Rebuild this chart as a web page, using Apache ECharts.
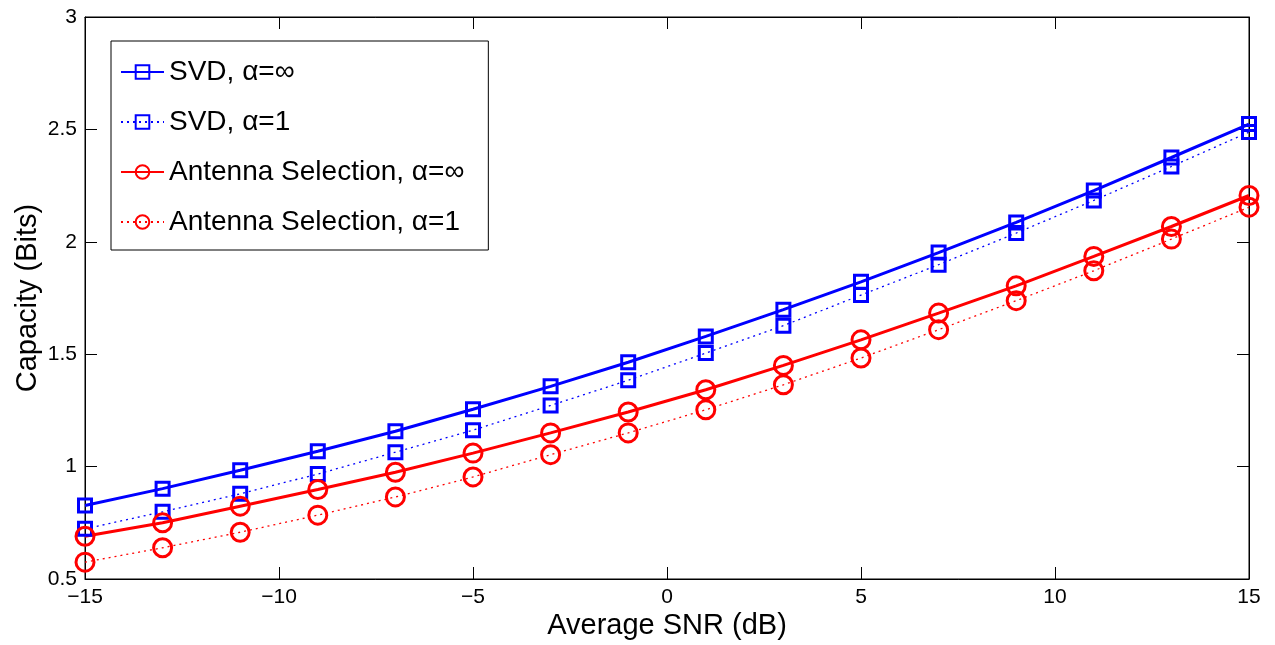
<!DOCTYPE html>
<html>
<head>
<meta charset="utf-8">
<script src="https://cdn.jsdelivr.net/npm/echarts@6/dist/echarts.min.js"></script>
<style>
  html, body { margin: 0; padding: 0; background: #fff; }
  #chart { width: 1275px; height: 645px; }
</style>
</head>
<body>
<div id="chart"></div>
<script>
var snr = [-15, -13, -11, -9, -7, -5, -3, -1, 1, 3, 5, 7, 9, 11, 13, 15];
var svdInf = [0.827, 0.902, 0.984, 1.068, 1.157, 1.255, 1.357, 1.464, 1.579, 1.698, 1.822, 1.952, 2.086, 2.228, 2.375, 2.524];
var svdOne = [0.723, 0.799, 0.879, 0.967, 1.064, 1.162, 1.272, 1.384, 1.505, 1.627, 1.763, 1.898, 2.039, 2.184, 2.335, 2.488];
var asInf = [0.690, 0.750, 0.824, 0.898, 0.975, 1.060, 1.150, 1.243, 1.342, 1.450, 1.564, 1.683, 1.804, 1.935, 2.068, 2.206];
var asOne = [0.575, 0.639, 0.708, 0.784, 0.865, 0.954, 1.053, 1.150, 1.253, 1.364, 1.483, 1.609, 1.738, 1.871, 2.012, 2.154];
var names = ['SVD, \u03b1=\u221e', 'SVD, \u03b1=1', 'Antenna Selection, \u03b1=\u221e', 'Antenna Selection, \u03b1=1'];

var font = 'Liberation Sans, Arial, sans-serif';

function pairs(ys) {
    return snr.map(function (x, i) { return [x, ys[i]]; });
}

function mkSeries(name, ys, color, dotted, symbol, size) {
    return {
        name: name,
        type: 'line',
        data: pairs(ys),
        symbol: symbol,
        symbolSize: size,
        showAllSymbol: true,
        animation: false,
        lineStyle: dotted ? { color: color, width: 1.3, type: [2, 4] } : { color: color, width: 3 },
        itemStyle: { color: 'rgba(0,0,0,0)', borderColor: color, borderWidth: 3 },
        emphasis: { disabled: true }
    };
}

// box axes (top / right) only carry ticks
function boxAxis(pos, min, max, step) {
    return {
        type: 'value', position: pos,
        min: min, max: max, interval: step,
        axisLine: { show: true, onZero: false, lineStyle: { color: '#000' } },
        axisTick: { show: true, inside: true, length: 12, lineStyle: { color: '#000' } },
        axisLabel: { show: false },
        splitLine: { show: false }
    };
}

var myChart = echarts.init(document.getElementById('chart'));
var option = {
    backgroundColor: '#fff',
    animation: false,
    grid: {
        left: 85, right: 26, top: 17, bottom: 65,
        show: true, borderColor: '#000', borderWidth: 1
    },
    legend: {
        orient: 'vertical',
        left: 111,
        top: 41,
        data: names,
        itemWidth: 43,
        itemHeight: 17,
        itemGap: 20,
        padding: [16, 24, 13, 9],
        backgroundColor: '#fff',
        borderColor: '#000',
        borderWidth: 1,
        textStyle: { fontFamily: font, fontSize: 28, color: '#000', lineHeight: 30 }
    },
    xAxis: [{
        type: 'value',
        min: -15, max: 15, interval: 5,
        name: 'Average SNR (dB)',
        nameLocation: 'middle',
        nameGap: 32,
        nameMoveOverlap: false,
        nameTextStyle: { fontFamily: font, fontSize: 29, color: '#000' },
        axisLine: { onZero: false, lineStyle: { color: '#000', width: 1 } },
        axisTick: { inside: true, length: 12, lineStyle: { color: '#000' } },
        axisLabel: {
            fontFamily: font, fontSize: 21, color: '#000', margin: 8,
            formatter: function (v) { return String(v).replace('-', '\u2212'); }
        },
        splitLine: { show: false }
    }, boxAxis('top', -15, 15, 5)],
    yAxis: [{
        type: 'value',
        min: 0.5, max: 3, interval: 0.5,
        name: 'Capacity (Bits)',
        nameLocation: 'middle',
        nameGap: 43,
        nameMoveOverlap: false,
        nameTextStyle: { fontFamily: font, fontSize: 29, color: '#000' },
        axisLine: { show: true, onZero: false, lineStyle: { color: '#000', width: 1 } },
        axisTick: { show: true, inside: true, length: 12, lineStyle: { color: '#000' } },
        axisLabel: { fontFamily: font, fontSize: 21, color: '#000', margin: 8 },
        splitLine: { show: false }
    }, boxAxis('right', 0.5, 3, 0.5)],
    series: [
        mkSeries(names[0], svdInf, '#0000ff', false, 'rect', 13),
        mkSeries(names[1], svdOne, '#0000ff', true, 'rect', 13),
        mkSeries(names[2], asInf, '#ff0000', false, 'circle', 18),
        mkSeries(names[3], asOne, '#ff0000', true, 'circle', 18)
    ]
};
myChart.setOption(option);
</script>
</body>
</html>
